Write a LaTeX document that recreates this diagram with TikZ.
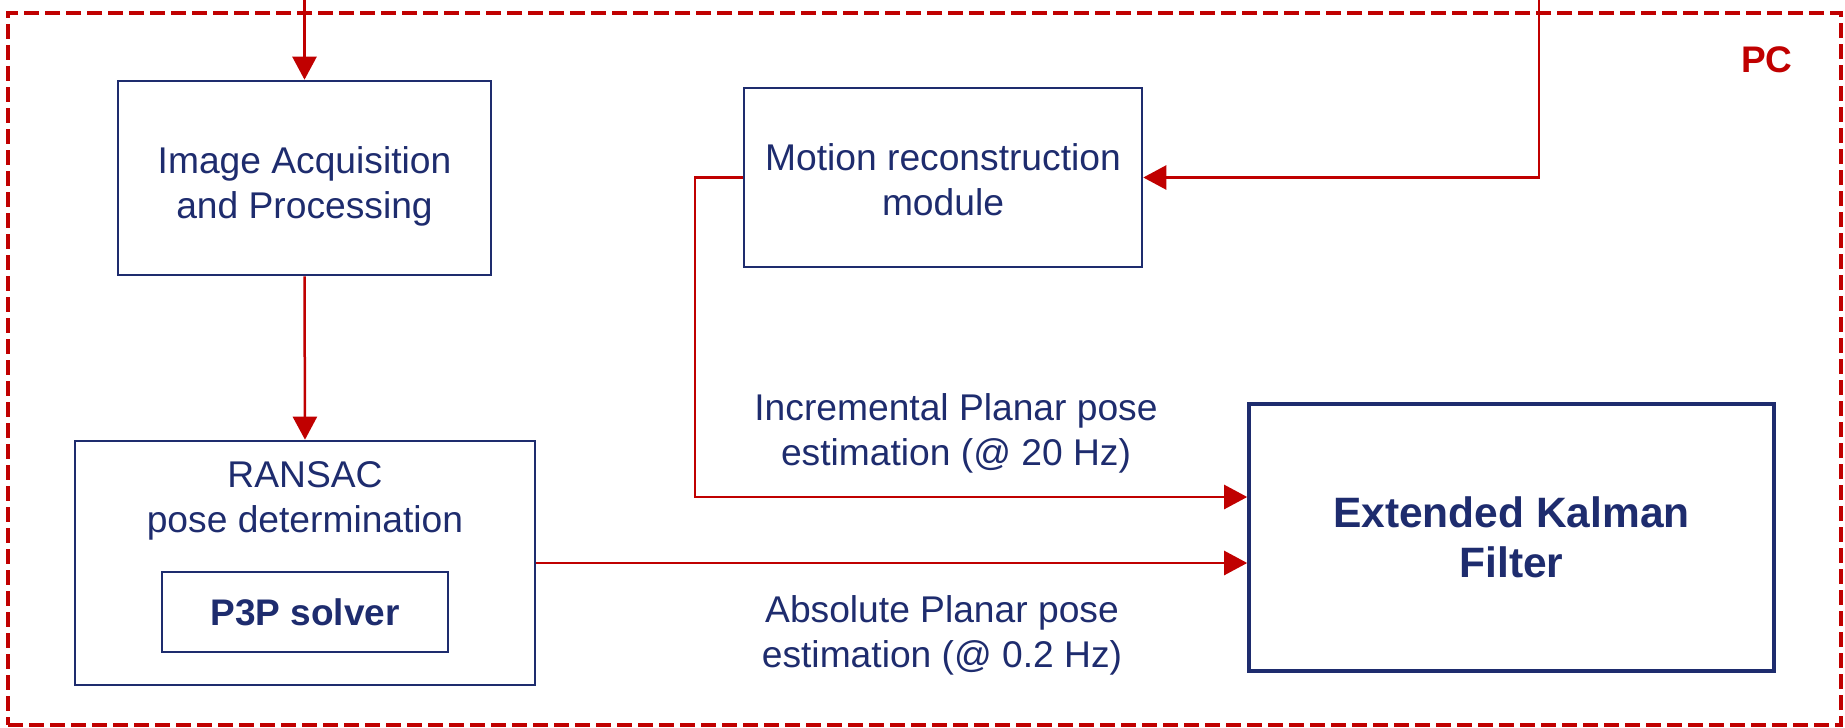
\documentclass[tikz,border=0pt]{standalone}
\usepackage{fontspec}
\setmainfont{Liberation Sans}
\usetikzlibrary{arrows.meta}
\definecolor{navy}{RGB}{30,44,110}
\definecolor{pcred}{RGB}{192,0,0}
\begin{document}
\begin{tikzpicture}[x=1pt,y=-1pt,
  box/.style={draw=navy, line width=2.6pt, inner sep=0pt, fill=none},
  txt/.style={text=navy, inner sep=0pt, align=center, font=\fontsize{37.2}{45}\selectfont},
  btxt/.style={text=navy, inner sep=0pt, align=center, font=\fontsize{37}{45}\selectfont\bfseries},
  arr/.style={draw=pcred, line width=2.5pt, -{Triangle[length=23pt,width=24pt]}},
  group/.style={draw=pcred, line width=4.8pt, dash pattern=on 15pt off 6pt, inner sep=0pt}
]
\useasboundingbox (0,0) rectangle (1845,728);
\fill[white] (0,0) rectangle (1845,728);

% PC group
\node[group, minimum width=1833pt, minimum height=712pt] (pcbox) at (924.5,369) {};
\node[inner sep=0pt, text=pcred, font=\fontsize{37}{45}\selectfont\bfseries] (pclabel) at (1767,59.75) {PC};

% boxes
\node[box, minimum width=373pt, minimum height=194pt] (img) at (304.5,178) {};
\node[txt] (imgtext) at (304.5,186.2) {Image Acquisition\\and Processing};

\node[box, minimum width=398pt, minimum height=179pt] (mot) at (943,177.5) {};
\node[txt] (mottext) at (943,179.3) {Motion reconstruction\\module};

\node[box, minimum width=460pt, minimum height=244pt] (ran) at (305,563) {};
\node[txt] (rantext) at (305,501) {RANSAC\\pose determination};

\node[box, minimum width=286pt, minimum height=80pt, btxt] (p3p) at (305,612) {P3P solver};

\node[box, line width=3.6pt, minimum width=525pt, minimum height=267pt, text=navy, align=center,
      font=\fontsize{42.5}{50}\selectfont\bfseries] (ekf) at (1511.5,537.5) {Extended Kalman\\Filter};

% edge labels
\node[txt] (inclabel) at (956,433.2) {Incremental Planar pose\\estimation (@ 20 Hz)};
\node[txt] (abslabel) at (942,635.2) {Absolute Planar pose\\estimation (@ 0.2 Hz)};

% connectors
\coordinate (in1) at (304.5,0);
\coordinate (in2) at (1539,0);
\coordinate (j1) at (695,497);
\draw[arr] (in1) -- (img.north);
\draw[arr] (img.south) -- (ran.north);
\draw[arr] (in2) |- (mot.east);
\draw[arr] (mot.west) -| (j1) -- (ekf.west |- j1);
\draw[arr] (ran.east) -- (ekf.west |- ran.east);
\end{tikzpicture}
\end{document}
